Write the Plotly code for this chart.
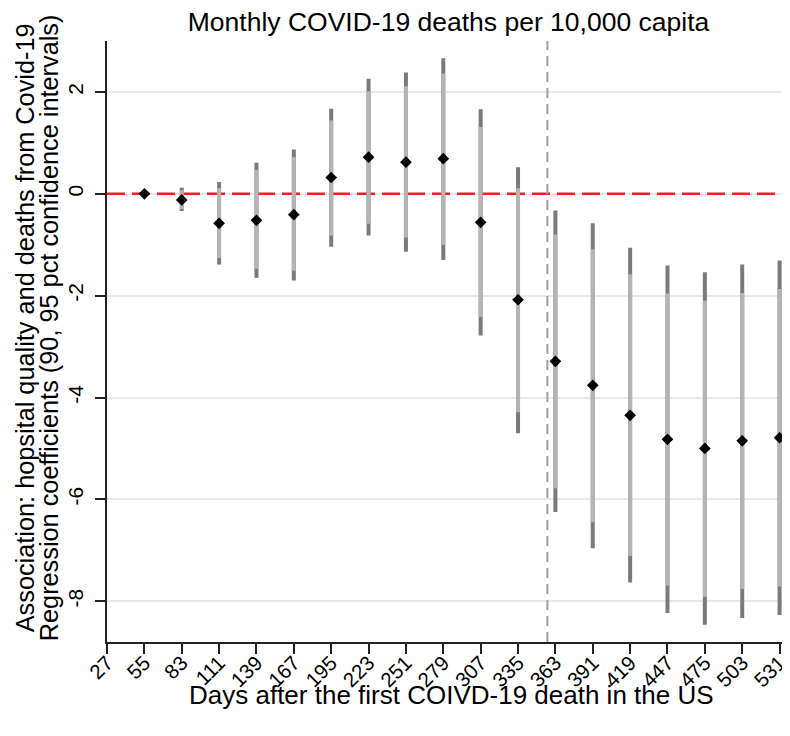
import plotly.graph_objects as go

# ---- data ----
days = [55, 83, 111, 139, 167, 195, 223, 251, 279, 307, 335, 363, 391, 419, 447, 475, 503, 531]
coef = [0.00, -0.12, -0.58, -0.52, -0.41, 0.32, 0.72, 0.62, 0.69, -0.56, -2.08, -3.29, -3.76, -4.35, -4.82, -5.00, -4.85, -4.79]
lo95 = [0.00, -0.34, -1.39, -1.65, -1.70, -1.04, -0.82, -1.14, -1.30, -2.78, -4.70, -6.25, -6.96, -7.63, -8.23, -8.46, -8.33, -8.27]
hi95 = [0.00, 0.12, 0.23, 0.61, 0.87, 1.67, 2.26, 2.38, 2.66, 1.66, 0.52, -0.33, -0.58, -1.06, -1.41, -1.54, -1.39, -1.31]
lo90 = [0.00, -0.30, -1.26, -1.47, -1.51, -0.82, -0.59, -0.86, -1.00, -2.42, -4.29, -5.78, -6.45, -7.11, -7.69, -7.91, -7.76, -7.71]
hi90 = [0.00, 0.07, 0.11, 0.47, 0.72, 1.44, 2.01, 2.11, 2.36, 1.31, 0.11, -0.80, -1.09, -1.58, -1.96, -2.10, -1.95, -1.87]
xticks = list(range(27, 532, 28))
yticks = [-8, -6, -4, -2, 0, 2]
xrange_ = [27, 538.8]
yrange_ = [-8.8, 3.0]
cutoff_day = 357

title_text = "Monthly COVID-19 deaths per 10,000 capita"
xtitle = "Days after the first COIVD-19 death in the US"
ytitle_1 = "Association: hopsital quality and deaths from Covid-19"
ytitle_2 = "Regression coefficients (90, 95 pct confidence intervals)"

FONT = "Liberation Sans, Arial, Helvetica, sans-serif"


def segments(xs, lows, highs):
    sx, sy = [], []
    for x, a, b in zip(xs, lows, highs):
        sx += [x, x, None]
        sy += [a, b, None]
    return sx, sy


fig = go.Figure()

# zero reference line (red dashed)
fig.add_trace(go.Scatter(x=xrange_, y=[0, 0], mode="lines",
                         line=dict(color="#f21c2a", width=2.5, dash="18px,7px"),
                         hoverinfo="skip", showlegend=False))
# vertical cutoff line (grey dashed)
fig.add_trace(go.Scatter(x=[cutoff_day, cutoff_day], y=yrange_, mode="lines",
                         line=dict(color="#a0a0a0", width=2, dash="10px,6px"),
                         hoverinfo="skip", showlegend=False))

x95, y95 = segments(days, lo95, hi95)
fig.add_trace(go.Scatter(x=x95, y=y95, mode="lines",
                         line=dict(color="#7a7a7a", width=4),
                         hoverinfo="skip", showlegend=False))
x90, y90 = segments(days, lo90, hi90)
fig.add_trace(go.Scatter(x=x90, y=y90, mode="lines",
                         line=dict(color="#b5b5b5", width=4),
                         hoverinfo="skip", showlegend=False))
fig.add_trace(go.Scatter(x=days, y=coef, mode="markers",
                         marker=dict(symbol="diamond", size=9, color="black"),
                         showlegend=False))

# page is offset by the 8px body margin -> compensate
fig.update_layout(
    width=782, height=728,
    margin=dict(l=99, r=0, t=33, b=94, autoexpand=False),
    paper_bgcolor="white", plot_bgcolor="white",
    font=dict(family=FONT, color="black", size=21),
    title=dict(text=title_text, x=0.5, xref="paper", xanchor="center",
               y=1 - 14 / 728, yref="container", yanchor="middle",
               font=dict(size=26.5, family=FONT, color="black")),
)

fig.add_annotation(text=xtitle, xref="paper", yref="paper", x=0.5, y=-0.0885,
                   xanchor="center", yanchor="middle", xshift=3, showarrow=False,
                   font=dict(size=26, family=FONT, color="black"))
fig.add_annotation(text=ytitle_1, xref="paper", yref="paper", x=0, y=0.522,
                   xanchor="center", yanchor="middle", xshift=-82, textangle=-90,
                   showarrow=False, font=dict(size=25.3, family=FONT, color="black"))
fig.add_annotation(text=ytitle_2, xref="paper", yref="paper", x=0, y=0.522,
                   xanchor="center", yanchor="middle", xshift=-58, textangle=-90,
                   showarrow=False, font=dict(size=25.3, family=FONT, color="black"))

fig.update_xaxes(
    range=xrange_, tickvals=xticks, ticktext=[str(v) for v in xticks],
    tickangle=-45, ticks="outside", ticklen=10, tickwidth=1.5, tickcolor="#222",
    showline=True, linecolor="#222", linewidth=1.5, showgrid=False, zeroline=False,
    tickfont=dict(size=20.5), automargin=False, ticklabelstandoff=-11,
)
fig.update_yaxes(
    range=yrange_, tickvals=yticks, ticktext=[str(v) for v in yticks],
    tickangle=-90, ticks="outside", ticklen=10, tickwidth=1.5, tickcolor="#222",
    showline=True, linecolor="#222", linewidth=1.5,
    showgrid=True, gridcolor="#e8e8e8", gridwidth=2, zeroline=False,
    tickfont=dict(size=21), automargin=False, ticklabelstandoff=4,
)

fig.write_html("out.html")
